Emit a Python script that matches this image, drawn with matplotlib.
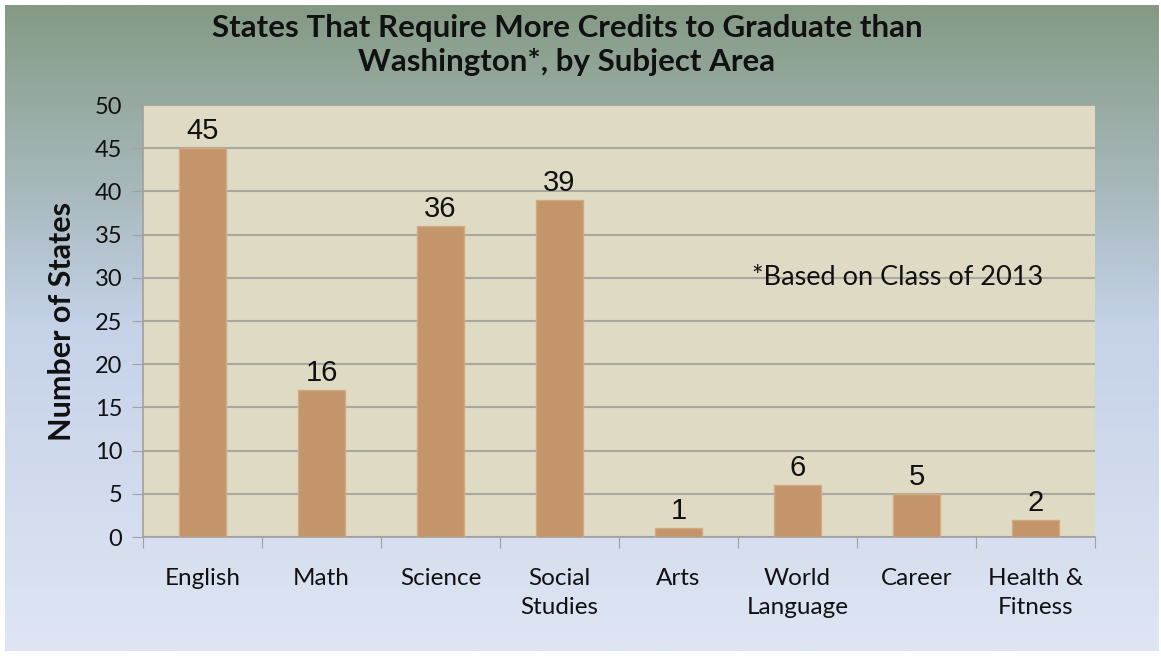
import matplotlib
matplotlib.use("Agg")
import matplotlib.pyplot as plt
import numpy as np
from matplotlib.colors import LinearSegmentedColormap

subjects = ["English", "Math", "Science", "Social\nStudies", "Arts",
            "World\nLanguage", "Career", "Health &\nFitness"]
bar_values = [45, 17, 36, 39, 1, 6, 5, 2]
label_values = [45, 16, 36, 39, 1, 6, 5, 2]
y_ticks = [0, 5, 10, 15, 20, 25, 30, 35, 40, 45, 50]

title = "States That Require More Credits to Graduate than\nWashington*, by Subject Area"
note = "*Based on Class of 2013"

plt.rcParams["font.family"] = ["Lato", "DejaVu Sans"]

fig = plt.figure(figsize=(11.61, 6.56), dpi=100)
fig.patch.set_facecolor("white")

# slide background gradient
W, H = 1161, 656
bg = fig.add_axes([5 / W, 5 / H, 1154 / W, 646 / H])
cmap = LinearSegmentedColormap.from_list(
    "slide", [(0.0, "#849a84"), (0.28, "#a7b8bb"), (0.5, "#c5d2e8"), (1.0, "#dfe5f3")]
)
bg.imshow(np.linspace(0, 1, 256).reshape(-1, 1), aspect="auto", cmap=cmap,
          extent=[0, 1, 0, 1], origin="upper")
bg.set_axis_off()

ax = fig.add_axes([143 / W, 1 - 537 / H, (1095 - 143) / W, (537 - 105) / H])
ax.set_facecolor("#dfdac3")

x = np.arange(len(subjects))
bars = ax.bar(x, bar_values, width=0.4, color="#c4956a", edgecolor="#d2aa80",
              linewidth=1, zorder=3)
for xi, v, lab in zip(x, bar_values, label_values):
    ax.text(xi, v + 0.35, str(lab), ha="center", va="bottom",
            fontsize=21, family=["Liberation Sans"], color="#111111", zorder=4)

ax.set_xlim(-0.5, len(subjects) - 0.5)
ax.set_ylim(0, 50)
ax.set_yticks(y_ticks)
ax.tick_params(axis="y", labelsize=17, length=8, color="#a0a0a0", pad=7,
               labelcolor="#111111")
ax.yaxis.grid(True, color="#a8a8a0", linewidth=1.5, zorder=1)
ax.set_axisbelow(True)

# category ticks at boundaries, labels at centers
ax.set_xticks(np.arange(len(subjects) + 1) - 0.5)
ax.set_xticklabels([])
ax.tick_params(axis="x", which="major", length=8, color="#a0a0a0")
ax.set_xticks(x, minor=True)
ax.set_xticklabels(subjects, minor=True, fontsize=17.5, linespacing=1.5,
                   color="#111111", va="top")
ax.tick_params(axis="x", which="minor", length=0, pad=22)

for side in ["top", "right"]:
    ax.spines[side].set_visible(False)
for side in ["left", "bottom"]:
    ax.spines[side].set_color("#a0a0a0")
    ax.spines[side].set_linewidth(1.2)

ax.set_ylabel("Number of States", fontsize=22, fontweight="bold", labelpad=13,
              color="#111111")
ax.text(0.64, 0.6, note, transform=ax.transAxes, fontsize=19.5, color="#111111",
        va="center", ha="left")

fig.text(567 / W, 1 - 45 / H, title, ha="center", va="center", fontsize=22.5,
         fontweight="bold", linespacing=1.3, color="#111111")

fig.savefig("out.png", dpi=100)
